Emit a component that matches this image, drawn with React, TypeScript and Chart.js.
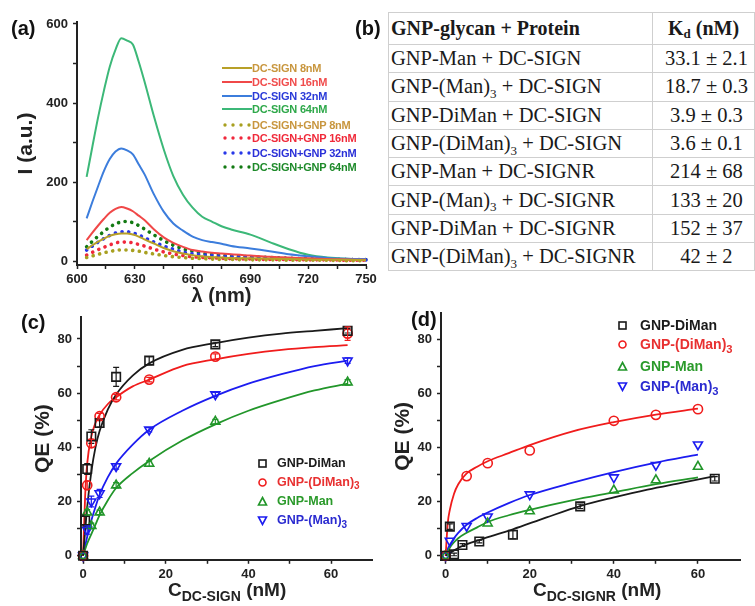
import React, { useEffect, useRef } from "react";
import { Chart, registerables } from "chart.js";
Chart.register(...registerables);

const SANS = "'Liberation Sans', Arial, Helvetica, sans-serif";
const SERIF = "'Liberation Serif', 'Times New Roman', serif";
const INK = "#222";

// ---------- Panel (a): emission spectra ----------
const wavelengths = [605, 608, 611, 614, 617, 620, 623, 626, 629, 632, 635, 640, 645, 650, 655, 660, 665, 670, 675, 680, 690, 700, 710, 720, 730, 740, 750];
const sign8 = [30, 40, 49, 57, 64, 68, 70, 70, 67, 62, 55, 44, 33, 25, 19, 15, 12, 10, 9, 8, 7, 6, 5, 4, 3, 3, 2];
const sign16 = [53, 72, 90, 107, 122, 132, 137, 133, 126, 115, 104, 80, 60, 46, 36, 28, 24, 21, 19, 17, 14, 11, 9, 7, 5, 4, 3];
const sign32 = [108, 150, 190, 228, 258, 277, 285, 280, 270, 245, 220, 168, 125, 95, 77, 62, 53, 48, 44, 38, 32, 25, 17, 12, 8, 6, 5];
const sign64 = [213, 290, 365, 432, 492, 535, 564, 558, 548, 505, 455, 365, 283, 215, 168, 135, 112, 100, 88, 80, 67, 48, 30, 16, 9, 6, 5];
const gnp8 = [9, 13, 17, 21, 24, 27, 28, 28, 27, 25, 22, 18, 14, 11, 9, 7, 6, 5, 4, 4, 3, 3, 2, 2, 2, 1, 1];
const gnp16 = [15, 22, 29, 35, 41, 46, 48, 48, 46, 42, 38, 30, 23, 18, 14, 11, 9, 8, 7, 6, 5, 4, 4, 3, 3, 2, 2];
const gnp32 = [28, 38, 48, 57, 65, 71, 74, 74, 71, 66, 59, 48, 38, 30, 23, 19, 16, 14, 12, 11, 9, 8, 6, 5, 4, 4, 3];
const gnp64 = [36, 50, 63, 75, 86, 94, 99, 100, 97, 90, 81, 66, 52, 40, 31, 25, 20, 17, 15, 13, 11, 9, 7, 6, 5, 4, 4];
const aSeriesLabels = ["DC-SIGN 8nM", "DC-SIGN 16nM", "DC-SIGN 32nM", "DC-SIGN 64nM", "DC-SIGN+GNP 8nM", "DC-SIGN+GNP 16nM", "DC-SIGN+GNP 32nM", "DC-SIGN+GNP 64nM"];
const aSeriesValues = [sign8, sign16, sign32, sign64, gnp8, gnp16, gnp32, gnp64];
const aXMajor = [600, 630, 660, 690, 720, 750];
const aXMinor = [615, 645, 675, 705, 735];
const aYMajor = [0, 200, 400, 600];
const aYMinor = [100, 300, 500];

// ---------- Panel (b): table ----------
const tableConjugates = ["GNP-Man", "GNP-(Man)|3", "GNP-DiMan", "GNP-(DiMan)|3", "GNP-Man", "GNP-(Man)|3", "GNP-DiMan", "GNP-(DiMan)|3"];
const tableProteins = ["DC-SIGN", "DC-SIGN", "DC-SIGN", "DC-SIGN", "DC-SIGNR", "DC-SIGNR", "DC-SIGNR", "DC-SIGNR"];
const tableKd = ["33.1 ± 2.1", "18.7 ± 0.3", "3.9 ± 0.3", "3.6 ± 0.1", "214 ± 68", "133 ± 20", "152 ± 37", "42 ± 2"];

// ---------- Panel (c): QE vs C(DC-SIGN) ----------
const qeLabels = ["GNP-DiMan", "GNP-(DiMan)|3", "GNP-Man", "GNP-(Man)|3"];
const cDiManX = [0, 0.5, 1, 2, 4, 8, 16, 32, 64];
const cDiManY = [0, 13, 32, 44, 49, 66, 72, 78, 83];
const cDiManErr = [0, 2, 2, 2.5, 1.5, 3.5, 1.5, 0.8, 0.8];
const cDiMan3X = [0, 1, 2, 4, 8, 16, 32, 64];
const cDiMan3Y = [0, 26, 41.5, 51.5, 58.5, 65, 73.5, 82];
const cDiMan3Err = [0, 1.5, 1.5, 1, 1, 0.8, 1, 2.5];
const cManX = [0, 1, 2, 4, 8, 16, 32, 64];
const cManY = [0, 16, 11, 16, 26, 34, 49.5, 64];
const cManErr = [0, 1, 1, 0.8, 1, 1, 0.8, 1];
const cMan3X = [0, 1, 2, 4, 8, 16, 32, 64];
const cMan3Y = [0, 9.5, 20, 23, 33, 46.5, 59.5, 72];
const cMan3Err = [0, 1.5, 2, 1.5, 1, 0.8, 0.8, 1];
// fitted curves
const cFitX = [0, 0.5, 1, 2, 3, 4, 6, 8, 12, 16, 24, 32, 40, 48, 56, 64];
const cDiManFit = [0, 9, 18, 31, 40, 46, 54, 59.5, 66.5, 71, 76, 78.5, 80.5, 82, 83, 84];
const cDiMan3Fit = [0, 22, 34, 44, 49, 52, 56, 58.5, 62.5, 65, 70, 72.5, 74.5, 76, 77, 77.7];
const cManFit = [0, 2.3, 4.5, 8, 11.5, 15, 20.5, 25, 30.5, 35, 42.5, 48.5, 53.5, 57.5, 61, 63.5];
const cMan3Fit = [0, 3.5, 7, 13, 18, 22.5, 29, 34, 41, 46.5, 53.5, 59, 63.5, 67, 70, 72];
const cXMajor = [0, 20, 40, 60];
const cXMinor = [10, 30, 50];
const qeYMajor = [0, 20, 40, 60, 80];
const qeYMinor = [10, 30, 50, 70];

// ---------- Panel (d): QE vs C(DC-SIGNR) ----------
const dDiManX = [0, 1, 2, 4, 8, 16, 32, 64];
const dDiManY = [0, 10.8, 0.5, 4, 5.3, 7.8, 18.3, 28.5];
const dDiManErr = [0, 1, 0.5, 0.5, 0.5, 1.5, 0.8, 0.8];
const dDiMan3X = [0, 5, 10, 20, 40, 50, 60];
const dDiMan3Y = [0, 29.5, 34.3, 39, 50, 52.2, 54.3];
const dManX = [0, 10, 20, 40, 50, 60];
const dManY = [0, 12, 16.5, 24.2, 28, 33];
const dMan3X = [0, 1, 5, 10, 20, 40, 50, 60];
const dMan3Y = [0, 5.5, 11, 14.5, 22.7, 29, 33.6, 41.2];
const dDiManFitX = [0, 2, 4, 8, 12, 16, 24, 32, 40, 48, 56, 64];
const dDiManFit = [0, 2, 3.6, 5.8, 7.8, 9.8, 14.2, 18.4, 21.6, 24.5, 27, 29.5];
const dFitX = [0, 0.5, 1, 2, 3, 5, 7.5, 10, 15, 20, 30, 40, 50, 60];
const dDiMan3Fit = [0, 12, 17, 23, 26.5, 30.5, 33, 35, 38, 41, 46, 49.5, 52.3, 54.5];
const dManFit = [0, 1.5, 3, 5, 6.5, 8.5, 10.5, 12.5, 15, 17, 20.5, 23.5, 26.5, 29];
const dMan3Fit = [0, 2.5, 4, 6.5, 8.5, 11.5, 14, 16, 19.5, 22.5, 27, 31, 34.5, 37.5];

// ---------- styles ----------
const aLineColors = ["#b8a028", "#f04848", "#3c7ddc", "#3cb878", "#a8a020", "#f0283c", "#2838e8", "#137a13"];
const aTextColors = ["#c8963e", "#f04c4c", "#2a3ad8", "#2ea84a", "#c8963e", "#f02a3a", "#2a30d8", "#1e8a2a"];
const qeColors = ["#1a1a1a", "#f01c1c", "#22962a", "#1c1cf0"];
const qeStyles = ["rect", "circle", "triangle", "triangle"];
const qeRot = [0, 0, 0, 180];
const qeRadius = [6, 4.6, 5.2, 5.2];

const toXY = (xs: number[], ys: number[]) => xs.map((x, i) => ({ x, y: ys[i] }));

const errorBars = {
  id: "errorBars",
  afterDatasetsDraw(chart: any) {
    const { ctx, scales } = chart;
    chart.data.datasets.forEach((ds: any) => {
      if (!ds.errors) return;
      ctx.save();
      ctx.strokeStyle = ds.borderColor;
      ctx.lineWidth = 1.2;
      ds.data.forEach((p: any, i: number) => {
        const e = ds.errors[i];
        if (!e) return;
        const px = scales.x.getPixelForValue(p.x);
        const y1 = scales.y.getPixelForValue(p.y + e);
        const y2 = scales.y.getPixelForValue(p.y - e);
        ctx.beginPath();
        ctx.moveTo(px, y1); ctx.lineTo(px, y2);
        ctx.moveTo(px - 3, y1); ctx.lineTo(px + 3, y1);
        ctx.moveTo(px - 3, y2); ctx.lineTo(px + 3, y2);
        ctx.stroke();
      });
      ctx.restore();
    });
  },
};

function makeAxis(o: {
  isX: boolean; min: number; max: number; major: number[]; minor: number[]; fit: number;
  title?: string; titleSize?: number; titlePad?: number;
}) {
  const all = [...o.major, ...o.minor].sort((a, b) => a - b);
  return {
    type: "linear",
    position: o.isX ? "bottom" : "left",
    min: o.min,
    max: o.max,
    afterBuildTicks: (s: any) => { s.ticks = all.map((v) => ({ value: v })); },
    afterFit: (s: any) => { if (o.isX) s.height = o.fit; else s.width = o.fit; },
    ticks: {
      autoSkip: false, maxRotation: 0, minRotation: 0,
      padding: o.isX ? 3 : 5,
      color: INK,
      font: { family: SANS, size: 13, weight: "bold" },
      callback: (v: number) => (o.major.includes(v) ? String(v) : ""),
    },
    grid: { drawOnChartArea: false, drawTicks: true, tickLength: 4, tickColor: INK, tickWidth: 1.5, color: INK },
    border: { display: true, color: INK, width: 2 },
    title: o.title
      ? {
          display: true, text: o.title, color: INK,
          font: { family: SANS, size: o.titleSize || 20, weight: "bold" },
          padding: o.isX ? { top: 0, bottom: o.titlePad || 0 } : { top: o.titlePad || 0, bottom: 0 },
        }
      : { display: false },
  };
}

function ChartBox({ left, top, width, height, build }: any) {
  const ref = useRef<HTMLCanvasElement>(null);
  useEffect(() => {
    const chart = new Chart(ref.current as HTMLCanvasElement, build());
    return () => chart.destroy();
  }, []);
  return (
    <canvas ref={ref} width={width} height={height}
      style={{ position: "absolute", left, top, width, height }} />
  );
}

const baseOptions = (padding: any, scales: any) => ({
  responsive: false,
  animation: false,
  devicePixelRatio: 1,
  layout: { padding },
  plugins: { legend: { display: false }, tooltip: { enabled: false } },
  scales,
});

function buildA() {
  return {
    type: "scatter",
    data: {
      datasets: aSeriesValues.map((vals, i) => {
        const dotted = i >= 4;
        return {
          label: aSeriesLabels[i],
          data: toXY(wavelengths, vals),
          showLine: true,
          pointRadius: 0,
          borderColor: aLineColors[i],
          backgroundColor: aLineColors[i],
          borderWidth: dotted ? 3.6 : 2,
          borderDash: dotted ? [0.1, 6.6] : [],
          borderCapStyle: dotted ? "round" : "butt",
          cubicInterpolationMode: "monotone",
          clip: false,
        };
      }),
    },
    options: baseOptions({ top: 22, right: 16, left: 0, bottom: 0 }, {
      x: makeAxis({ isX: true, min: 600, max: 750, major: aXMajor, minor: aXMinor, fit: 45, title: "λ (nm)", titleSize: 20, titlePad: 2 }),
      y: makeAxis({ isX: false, min: -10, max: 605, major: aYMajor, minor: aYMinor, fit: 77, title: "I (a.u.)", titleSize: 21, titlePad: 13.4 }),
    }),
  };
}

function qeDatasets(pts: [number[], number[], number[] | null][], fits: [number[], number[]][]) {
  const ds: any[] = [];
  pts.forEach(([xs, ys, errs], i) => {
    ds.push({
      label: qeLabels[i].replace("|", ""),
      data: toXY(xs, ys),
      showLine: false,
      pointStyle: qeStyles[i],
      rotation: qeRot[i],
      pointRadius: qeRadius[i],
      pointBorderWidth: 1.6,
      borderColor: qeColors[i],
      backgroundColor: "rgba(0,0,0,0)",
      errors: errs,
      order: 1,
      clip: false,
    });
  });
  fits.forEach(([xs, ys], i) => {
    ds.push({
      label: qeLabels[i].replace("|", "") + " fit",
      data: toXY(xs, ys),
      showLine: true,
      pointRadius: 0,
      borderWidth: 1.8,
      borderColor: qeColors[i],
      backgroundColor: qeColors[i],
      cubicInterpolationMode: "monotone",
      order: 2,
      clip: false,
    });
  });
  return ds;
}

function buildC() {
  return {
    type: "scatter",
    data: {
      datasets: qeDatasets(
        [[cDiManX, cDiManY, cDiManErr], [cDiMan3X, cDiMan3Y, cDiMan3Err], [cManX, cManY, cManErr], [cMan3X, cMan3Y, cMan3Err]],
        [[cFitX, cDiManFit], [cFitX, cDiMan3Fit], [cFitX, cManFit], [cFitX, cMan3Fit]]
      ),
    },
    options: baseOptions({ top: 17.3, right: 5.25, left: 0, bottom: 0 }, {
      x: makeAxis({ isX: true, min: -0.5, max: 70, major: cXMajor, minor: cXMinor, fit: 46.2 }),
      y: makeAxis({ isX: false, min: -1.5, max: 88, major: qeYMajor, minor: qeYMinor, fit: 81, title: "QE (%)", titleSize: 21, titlePad: 30.4 }),
    }),
    plugins: [errorBars],
  };
}

function buildD() {
  return {
    type: "scatter",
    data: {
      datasets: qeDatasets(
        [[dDiManX, dDiManY, dDiManErr], [dDiMan3X, dDiMan3Y, null], [dManX, dManY, null], [dMan3X, dMan3Y, null]],
        [[dDiManFitX, dDiManFit], [dFitX, dDiMan3Fit], [dFitX, dManFit], [dFitX, dMan3Fit]]
      ),
    },
    options: baseOptions({ top: 10.5, right: 15, left: 0, bottom: 0 }, {
      x: makeAxis({ isX: true, min: -1.1, max: 70, major: cXMajor, minor: cXMinor, fit: 46.2 }),
      y: makeAxis({ isX: false, min: -1.5, max: 90, major: qeYMajor, minor: qeYMinor, fit: 61, title: "QE (%)", titleSize: 21, titlePad: 10.4 }),
    }),
    plugins: [errorBars],
  };
}

function SubName({ name, subSize }: { name: string; subSize: number }) {
  const [main, sub] = name.split("|");
  return (
    <>
      {main}
      {sub ? <span style={{ fontSize: subSize, position: "relative", top: subSize * 0.35 }}>{sub}</span> : null}
    </>
  );
}

function Marker({ i, size }: { i: number; size: number }) {
  const c = qeColors[i];
  const s = size;
  const h = s / 2;
  let shape;
  if (i === 0) shape = <rect x={2} y={2} width={s - 4} height={s - 4} fill="none" stroke={c} strokeWidth={1.6} />;
  else if (i === 1) shape = <circle cx={h} cy={h} r={h - 2} fill="none" stroke={c} strokeWidth={1.6} />;
  else if (i === 2) shape = <polygon points={`${h},1.5 ${s - 1.5},${s - 2} 1.5,${s - 2}`} fill="none" stroke={c} strokeWidth={1.6} />;
  else shape = <polygon points={`1.5,2 ${s - 1.5},2 ${h},${s - 1.5}`} fill="none" stroke={c} strokeWidth={1.6} />;
  return <svg width={s} height={s} style={{ display: "block" }}>{shape}</svg>;
}

function QELegend({ left, top, rows, markerX, textX, fontSize, markerSize }: any) {
  return (
    <>
      {qeLabels.map((lab, i) => (
        <React.Fragment key={lab}>
          <div style={{ position: "absolute", left: left + markerX - markerSize / 2, top: top + rows[i] - markerSize / 2 }}>
            <Marker i={i} size={markerSize} />
          </div>
          <div style={{
            position: "absolute", left: left + textX, top: top + rows[i] - fontSize * 0.6,
            fontFamily: SANS, fontWeight: "bold", fontSize, lineHeight: `${fontSize * 1.2}px`,
            color: qeColors[i] === "#1a1a1a" ? "#1a1a1a" : i === 1 ? "#e83030" : i === 2 ? "#2a9a2a" : "#2a2ad0",
            whiteSpace: "nowrap",
          }}>
            <SubName name={lab} subSize={fontSize * 0.8} />
          </div>
        </React.Fragment>
      ))}
    </>
  );
}

function ALegend() {
  const rows = [68.3, 81.5, 95.5, 109, 124.5, 138, 152.5, 166.5];
  return (
    <>
      {aSeriesLabels.map((lab, i) => {
        const dotted = i >= 4;
        return (
          <React.Fragment key={lab}>
            <svg width={30} height={8} style={{ position: "absolute", left: 222, top: rows[i] - 4 }}>
              {dotted
                ? [3, 11, 19, 27].map((cx) => <circle key={cx} cx={cx} cy={4} r={1.7} fill={aLineColors[i]} />)
                : <line x1={0} y1={4} x2={30} y2={4} stroke={aLineColors[i]} strokeWidth={2} />}
            </svg>
            <div style={{
              position: "absolute", left: 252, top: rows[i] - 7, fontFamily: SANS, fontWeight: "bold",
              fontSize: 11, lineHeight: "14px", color: aTextColors[i], whiteSpace: "nowrap", letterSpacing: -0.2,
            }}>{lab}</div>
          </React.Fragment>
        );
      })}
    </>
  );
}

function PanelLabel({ text, left, top }: any) {
  return (
    <div style={{ position: "absolute", left, top, fontFamily: SANS, fontWeight: "bold", fontSize: 20, lineHeight: "22px", color: "#111" }}>{text}</div>
  );
}

function ConcTitle({ left, top, sub }: any) {
  return (
    <div style={{ position: "absolute", left, top, fontFamily: SANS, fontWeight: "bold", fontSize: 19, lineHeight: "22px", color: INK, whiteSpace: "nowrap" }}>
      C<span style={{ fontSize: 14, position: "relative", top: 5 }}>{sub}</span> (nM)
    </div>
  );
}

function KdTable() {
  const border = "1px solid #cfcfcf";
  const cell: any = { border, padding: 0, color: "#1a1a1a", whiteSpace: "nowrap", overflow: "hidden" };
  return (
    <table style={{
      position: "absolute", left: 388, top: 12, width: 366, borderCollapse: "collapse", tableLayout: "fixed",
      fontFamily: SERIF, fontSize: 20.5,
    }}>
      <colgroup><col style={{ width: 264 }} /><col style={{ width: 102 }} /></colgroup>
      <tbody>
        <tr style={{ height: 32 }}>
          <td style={{ ...cell, fontWeight: "bold", fontSize: 20, paddingLeft: 2 }}>GNP-glycan + Protein</td>
          <td style={{ ...cell, fontWeight: "bold", fontSize: 20, textAlign: "center" }}>
            K<span style={{ fontSize: 13, position: "relative", top: 3 }}>d</span> (nM)
          </td>
        </tr>
        {tableConjugates.map((g, i) => (
          <tr key={i} style={{ height: 28.3 }}>
            <td style={{ ...cell, paddingLeft: 2 }}>
              <SubName name={g} subSize={13} /> + {tableProteins[i]}
            </td>
            <td style={{ ...cell, textAlign: "center", paddingLeft: 6 }}>{tableKd[i]}</td>
          </tr>
        ))}
      </tbody>
    </table>
  );
}

export default function App() {
  return (
    <div style={{ position: "absolute", left: 0, top: 0, width: 755, height: 606, background: "#fff", overflow: "hidden" }}>
      <ChartBox left={0} top={0} width={382} height={310} build={buildA} />
      <ChartBox left={0} top={300} width={380} height={306} build={buildC} />
      <ChartBox left={380} top={300} width={375} height={306} build={buildD} />
      <ALegend />
      <KdTable />
      <QELegend left={0} top={0} rows={[463.3, 482.3, 501.7, 520.7]} markerX={262} textX={277} fontSize={12.5} markerSize={11} />
      <QELegend left={0} top={0} rows={[325, 344, 366, 386]} markerX={622} textX={640} fontSize={14} markerSize={11} />
      <ConcTitle left={168} top={579} sub="DC-SIGN" />
      <ConcTitle left={533} top={579} sub="DC-SIGNR" />
      <PanelLabel text="(a)" left={11} top={17} />
      <PanelLabel text="(b)" left={355} top={17} />
      <PanelLabel text="(c)" left={21} top={311} />
      <PanelLabel text="(d)" left={411} top={308} />
    </div>
  );
}
